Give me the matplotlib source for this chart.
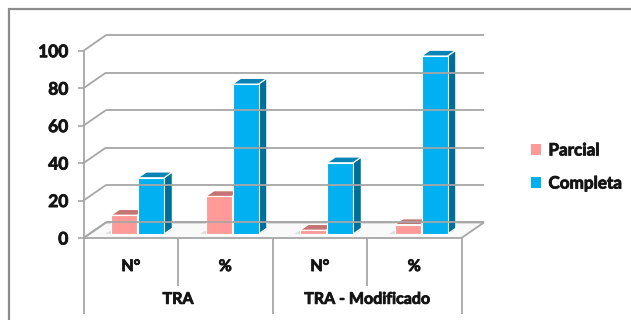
import matplotlib
matplotlib.use("Agg")
import matplotlib.pyplot as plt
import matplotlib.patheffects as pe
from matplotlib.patches import Polygon, Rectangle, Patch

# data
groups = ["TRA", "TRA - Modificado"]
sub_labels = ["N°", "%", "N°", "%"]
parcial = [10, 20, 2, 5]
completa = [30, 80, 38, 95]
yticks = [0, 20, 40, 60, 80, 100]

C_PARCIAL = "#FF9A99"
C_PARCIAL_TOP = "#C47472"
C_COMP = "#00B0F0"
C_COMP_TOP = "#0A84B5"
C_COMP_SIDE = "#006F98"
C_GRID = "#A6A6A6"
C_TEXT = "#151515"

plt.rcParams["font.family"] = ["Lato", "DejaVu Sans"]
# a thin stroke to make the bold labels a bit heavier
heavy = [pe.withStroke(linewidth=0.6, foreground=C_TEXT)]

fig = plt.figure(figsize=(6.31, 3.20), dpi=100)
ax = fig.add_axes([83.5 / 631, 82 / 320, 378 / 631, 187.3 / 320])
ax.set_xlim(0, 4)
ax.set_ylim(0, 100)

# oblique depth of the box (category units, value units)
DX, DY = 0.238, 8.3


def depth(f):
    return f * DX, f * DY


def line(xs, ys, **kw):
    kw.setdefault("color", C_GRID)
    kw.setdefault("lw", 1.3)
    ax.plot(xs, ys, clip_on=False, solid_capstyle="butt", **kw)


# floor
floor = Polygon([(0, 0), (4, 0), (4 + DX, DY), (DX, DY)], closed=True,
                facecolor="#F9F9F9", edgecolor=C_GRID, lw=1.3, clip_on=False)
ax.add_patch(floor)

# back wall gridlines and side-wall diagonals
for v in yticks:
    line([DX, 4 + DX], [v + DY, v + DY])
    line([0, DX], [v, v + DY])
line([0, 0], [0, 100])

# bars drawn as boxes
w = 0.275
f0, fd = 0.26, 0.37
ox, oy = depth(f0)
bx, by = depth(fd)


def box(x0, h, front, top, side):
    x0 += ox
    x1 = x0 + w
    y0, y1 = oy, oy + h
    kw = dict(closed=True, edgecolor="white", lw=0.8, clip_on=False)
    ax.add_patch(Polygon([(x1, y0), (x1 + bx, y0 + by), (x1 + bx, y1 + by), (x1, y1)],
                         facecolor=side, **kw))
    ax.add_patch(Polygon([(x0, y1), (x1, y1), (x1 + bx, y1 + by), (x0 + bx, y1 + by)],
                         facecolor=top, **kw))
    ax.add_patch(Polygon([(x0, y0), (x1, y0), (x1, y1), (x0, y1)],
                         facecolor=front, **kw))


for i in range(len(sub_labels)):
    c = i + 0.5
    # faint floor shadows
    ax.add_patch(Polygon([(c - 0.33 + ox, oy), (c - 0.27 + ox, oy), (c - 0.27 + ox + 0.05, oy + 1.6),
                          (c - 0.33 + ox + 0.05, oy + 1.6)], closed=True,
                         facecolor="#DDDDDD", edgecolor="none", clip_on=False))
    ax.add_patch(Polygon([(c + 0.29 + ox, oy), (c + 0.36 + ox, oy + 1.5), (c + 0.29 + ox + 0.07, oy + 3.3),
                          (c + 0.29 + ox + 0.02, oy + 3.3)], closed=True,
                         facecolor="#D5D5D5", edgecolor="none", clip_on=False))
    box(c - 0.27, parcial[i], C_PARCIAL, C_PARCIAL_TOP, "#B06060")
    box(c + 0.015, completa[i], C_COMP, C_COMP_TOP, C_COMP_SIDE)

# category axis below the floor
for x in [0, 2, 4]:
    line([x, x], [0, -40.5])
for x in [1, 3]:
    line([x, x], [0, -25.5])
for i, lab in enumerate(sub_labels):
    ax.text(i + 0.5, -15.5, lab, ha="center", va="center", fontsize=11.5,
            fontweight="bold", color=C_TEXT, clip_on=False, path_effects=heavy)
for j, g in enumerate(groups):
    ax.text(2 * j + 1, -33, g, ha="center", va="center", fontsize=11.5,
            fontweight="bold", color=C_TEXT, clip_on=False, path_effects=heavy)

ax.set_yticks(yticks)
ax.set_yticklabels([str(v) for v in yticks], fontsize=12.5, fontweight="bold",
                   color=C_TEXT, path_effects=heavy)
ax.tick_params(axis="y", length=4, width=1.2, color=C_GRID, pad=7)
ax.set_xticks([])
for s in ax.spines.values():
    s.set_visible(False)
ax.patch.set_visible(False)

# legend
handles = [Patch(facecolor=C_PARCIAL, edgecolor="none"),
           Patch(facecolor=C_COMP, edgecolor="none")]
leg = fig.legend(handles, ["Parcial", "Completa"], loc="center left",
                 bbox_to_anchor=(516 / 631, 1 - 167 / 320), frameon=False,
                 prop=dict(size=12.3, weight="bold"), handlelength=0.55,
                 handleheight=0.55, handletextpad=0.45, labelspacing=1.0,
                 labelcolor=C_TEXT)
for t in leg.get_texts():
    t.set_path_effects(heavy)

# chart frame
fig.patches.append(Rectangle((9 / 631, -0.1), 1.0, 1 - 9 / 320 + 0.1,
                             transform=fig.transFigure, fill=False,
                             edgecolor="#8C8C8C", lw=1.6))

fig.savefig("out.png", dpi=100)
